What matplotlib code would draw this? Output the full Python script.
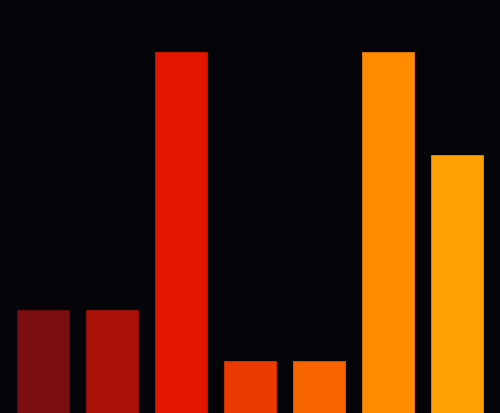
import matplotlib
matplotlib.use("Agg")
import matplotlib.pyplot as plt

categories = ["A", "B", "C", "D", "E", "F", "G"]
values = [2, 2, 7, 1, 1, 7, 5]
colors = ["#7b0e10", "#ab1108", "#e51600", "#ec3b00", "#f86400", "#ff8c00", "#ffa000"]
edges = ["#6a0c0c", "#951008", "#d01400", "#d83400", "#e05a00", "#e87e00", "#e89200"]

bg = "#050408"
fig = plt.figure(figsize=(5.0, 4.14), dpi=100, facecolor=bg)
ax = fig.add_axes([0, 0, 1, 1], facecolor=bg)
x = list(range(len(categories)))
ax.bar(x, values, width=0.745, color=colors, edgecolor=edges, linewidth=0.6)
ax.set_xlim(-0.623, 6.623)
ax.set_ylim(0, 8.03)
ax.axis("off")
fig.savefig("out.png", dpi=100, facecolor=bg)
